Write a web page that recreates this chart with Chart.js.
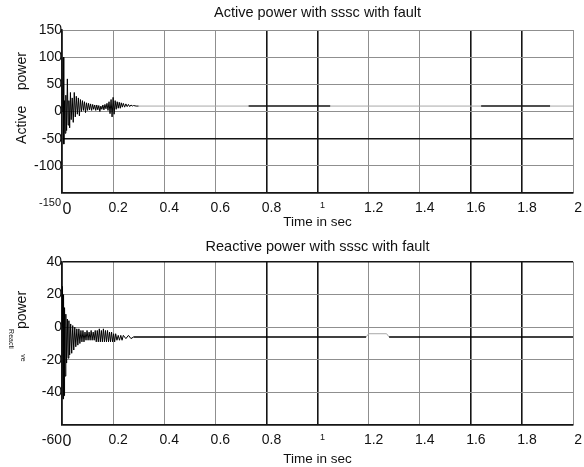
<!DOCTYPE html>
<html>
<head>
<meta charset="utf-8">
<script src="https://cdn.jsdelivr.net/npm/chart.js@4.4.0/dist/chart.umd.min.js"></script>
<style>
  body { margin: 0; background: #fff; }
  .box { position: absolute; left: 0; width: 584px; }
  #top { top: 0; height: 230px; }
  #bottom { top: 230px; height: 237px; }
</style>
</head>
<body>
<div class="box" id="top"><canvas id="activeChart"></canvas></div>
<div class="box" id="bottom"><canvas id="reactiveChart"></canvas></div>
<script>
// Active power (time in sec / value)
const activeTime = [0, 0.003, 0.005, 0.007, 0.01, 0.012, 0.015, 0.018, 0.021, 0.024, 0.027, 0.03, 0.033, 0.036, 0.04, 0.044, 0.048, 0.052, 0.056, 0.06,
  0.064, 0.068, 0.072, 0.076, 0.08, 0.084, 0.088, 0.092, 0.096, 0.1, 0.104, 0.108, 0.112, 0.116, 0.12, 0.124, 0.128, 0.132, 0.136, 0.14,
  0.144, 0.148, 0.152, 0.156, 0.16, 0.164, 0.168, 0.172, 0.176, 0.18, 0.184, 0.188, 0.192, 0.196, 0.2, 0.204, 0.208, 0.212, 0.216, 0.22,
  0.224, 0.228, 0.232, 0.236, 0.24, 0.245, 0.25, 0.255, 0.26, 0.265, 0.27, 0.275, 0.28, 0.29, 0.3, 0.73, 1.05, 1.64, 1.91, 2];
const activeValues = [0, 30, 100, -60, 20, -40, 30, -35, 60, -25, 20, -30, 35, -15, 25, -20, 35, -10, 28, -5,
  25, -8, 22, 0, 20, 2, 18, -2, 16, 2, 15, 3, 14, 2, 13, 4, 12, 2, 12, 3,
  11, 0, 10, 4, 12, 3, 13, 5, 15, 2, 18, -4, 22, -10, 26, -5, 20, 4, 18, 6,
  17, 6, 16, 8, 15, 8, 14, 9, 13, 9, 12, 10, 11, 10, 10, 10, 10, 10, 10, 10];

// Reactive power
const reactiveTime = [0, 0.002, 0.004, 0.006, 0.008, 0.01, 0.012, 0.015, 0.018, 0.021, 0.024, 0.027, 0.03, 0.034, 0.038, 0.042, 0.046, 0.05, 0.054, 0.058,
  0.062, 0.066, 0.07, 0.074, 0.078, 0.082, 0.086, 0.09, 0.094, 0.098, 0.102, 0.106, 0.11, 0.114, 0.118, 0.122, 0.126, 0.13, 0.134, 0.138,
  0.142, 0.146, 0.15, 0.154, 0.158, 0.162, 0.166, 0.17, 0.174, 0.178, 0.182, 0.186, 0.19, 0.194, 0.198, 0.202, 0.206, 0.21, 0.215, 0.22,
  0.225, 0.23, 0.235, 0.24, 0.25, 0.26, 0.27, 0.28, 1.19, 1.2, 1.27, 1.28, 2];
const reactiveValues = [0, 25, -44, 20, -42, 12, -30, 8, -22, 5, -19, 4, -17, 2, -16, 1, -14, 0, -12, -1,
  -11, -1, -10, -2, -9, -2, -9, -3, -8, -2, -8, -3, -8, -2, -8, -3, -8, -2, -9, -2,
  -9, -1, -9, -2, -9, -1, -9, -2, -9, -2, -9, -3, -9, -3, -9, -4, -9, -4, -8, -5,
  -8, -5, -8, -5, -7, -5, -7, -6, -6, -4, -4, -6, -6];

// Ticks
const timeTicks = [0, 0.2, 0.4, 0.6, 0.8, 1, 1.2, 1.4, 1.6, 1.8, 2];
const activeTicks = [-150, -100, -50, 0, 50, 100, 150];
const reactiveTicks = [-60, -40, -20, 0, 20, 40];

const FONT = 'Liberation Sans, Arial, sans-serif';
const GREY = '#8f8f8f';
const DARK = '#151515';

function isDarkX(v) {
  return [0, 0.8, 1, 1.6, 1.8].some(d => Math.abs(v - d) < 1e-6);
}

function toPoints(xs, ys) {
  return xs.map((x, i) => ({ x: x, y: ys[i] }));
}

// texte placé à la main (labels de l'axe y etc.)
function extraText(items) {
  return {
    id: 'extraText',
    afterDraw(chart) {
      const c = chart.ctx;
      const area = chart.chartArea;
      items.forEach(it => {
        c.save();
        c.fillStyle = '#111';
        c.font = it.size + 'px ' + FONT;
        c.textAlign = it.align || 'center';
        c.textBaseline = 'middle';
        const y = it.fromBottom !== undefined ? area.bottom + it.fromBottom : it.y;
        c.translate(it.x, y);
        if (it.rot) c.rotate(it.rot);
        c.fillText(it.text, 0, 0);
        c.restore();
      });
    }
  };
}

function makeChart(id, opts) {
  return new Chart(document.getElementById(id), {
    type: 'scatter',
    data: {
      datasets: [{
        data: toPoints(opts.xs, opts.ys),
        showLine: true,
        pointRadius: 0,
        borderWidth: 1,
        borderColor: '#000',
        segment: { borderColor: opts.segColor, borderWidth: opts.segWidth }
      }]
    },
    options: {
      responsive: true,
      maintainAspectRatio: false,
      animation: false,
      layout: { padding: { left: 0, right: 10, top: 0, bottom: 0 } },
      plugins: {
        legend: { display: false },
        tooltip: { enabled: false },
        title: {
          display: true,
          fullSize: false,
          text: opts.title,
          color: '#111',
          font: { family: FONT, size: 14.5, weight: 'normal' },
          padding: opts.titlePad
        }
      },
      scales: {
        x: {
          type: 'linear',
          min: 0, max: 2,
          afterBuildTicks: s => { s.ticks = timeTicks.map(v => ({ value: v })); },
          afterFit: s => { s.height = opts.xHeight; },
          grid: {
            drawTicks: false,
            color: c => isDarkX(c.tick.value) ? DARK : GREY,
            lineWidth: c => isDarkX(c.tick.value) ? 1.6 : 1
          },
          border: { display: true, color: DARK, width: 1.6 },
          ticks: {
            padding: 7,
            labelOffset: 5,
            color: '#111',
            font: c => ({ family: FONT, size: c.tick && c.tick.value === 0 ? 16 : (c.tick && c.tick.value === 1 ? 9 : 14) }),
            callback: v => String(Number(v.toFixed(1)))
          },
          title: {
            display: true,
            text: 'Time in sec',
            color: '#111',
            font: { family: FONT, size: 13.5 },
            padding: { top: 0, bottom: 0 }
          }
        },
        y: {
          min: opts.yTicks[0],
          max: opts.yTicks[opts.yTicks.length - 1],
          afterBuildTicks: s => { s.ticks = opts.yTicks.map(v => ({ value: v })); },
          afterFit: s => { s.width = 62; },
          grid: {
            drawTicks: false,
            color: c => opts.darkY.includes(c.tick.value) ? DARK : GREY,
            lineWidth: c => opts.darkY.includes(c.tick.value) ? 1.6 : 1
          },
          border: { display: true, color: DARK, width: 1.6 },
          ticks: {
            padding: 0,
            color: '#111',
            font: { family: FONT, size: 14 },
            // le label du bas est dessiné à part (plus bas, comme sur la figure)
            callback: v => v === opts.yTicks[0] ? '' : String(v)
          }
        }
      }
    },
    plugins: [extraText(opts.texts)]
  });
}

// segments gris / foncés du régime établi
const activeDark = [[0.73, 1.05], [1.64, 1.91]];

makeChart('activeChart', {
  xs: activeTime, ys: activeValues,
  yTicks: activeTicks, darkY: [-50, -150],
  title: 'Active power with sssc with fault',
  titlePad: { top: 4, bottom: 8.6 },
  xHeight: 37,
  segColor: c => {
    const x = c.p0.parsed.x;
    if (x < 0.3) return '#000';
    return activeDark.some(r => x >= r[0] - 1e-6 && x < r[1] - 1e-6) ? DARK : '#a8a8a8';
  },
  segWidth: c => {
    const x = c.p0.parsed.x;
    return activeDark.some(r => x >= r[0] - 1e-6 && x < r[1] - 1e-6) ? 1.6 : 1;
  },
  texts: [
    { text: '-150', x: 61, fromBottom: 10, size: 11, align: 'right' },
    { text: 'Active    power', x: 22, y: 98, size: 14, rot: -Math.PI / 2 }
  ]
});

makeChart('reactiveChart', {
  xs: reactiveTime, ys: reactiveValues,
  yTicks: reactiveTicks, darkY: [40, -60],
  title: 'Reactive power with sssc with fault',
  titlePad: { top: 8.3, bottom: 6.3 },
  xHeight: 42,
  segColor: c => {
    const x = c.p0.parsed.x;
    if (x >= 1.19 && x < 1.28) return '#a8a8a8';
    return '#000';
  },
  segWidth: c => (c.p0.parsed.x >= 0.28 && !(c.p0.parsed.x >= 1.19 && c.p0.parsed.x < 1.28)) ? 1.6 : 1,
  texts: [
    { text: '-60', x: 62, fromBottom: 15, size: 14, align: 'right' },
    { text: 'power', x: 22, y: 80, size: 14, rot: -Math.PI / 2 },
    { text: 'Reacti', x: 11, y: 109, size: 7, rot: Math.PI / 2 },
    { text: 've', x: 23, y: 128, size: 7, rot: Math.PI / 2 }
  ]
});
</script>
</body>
</html>
